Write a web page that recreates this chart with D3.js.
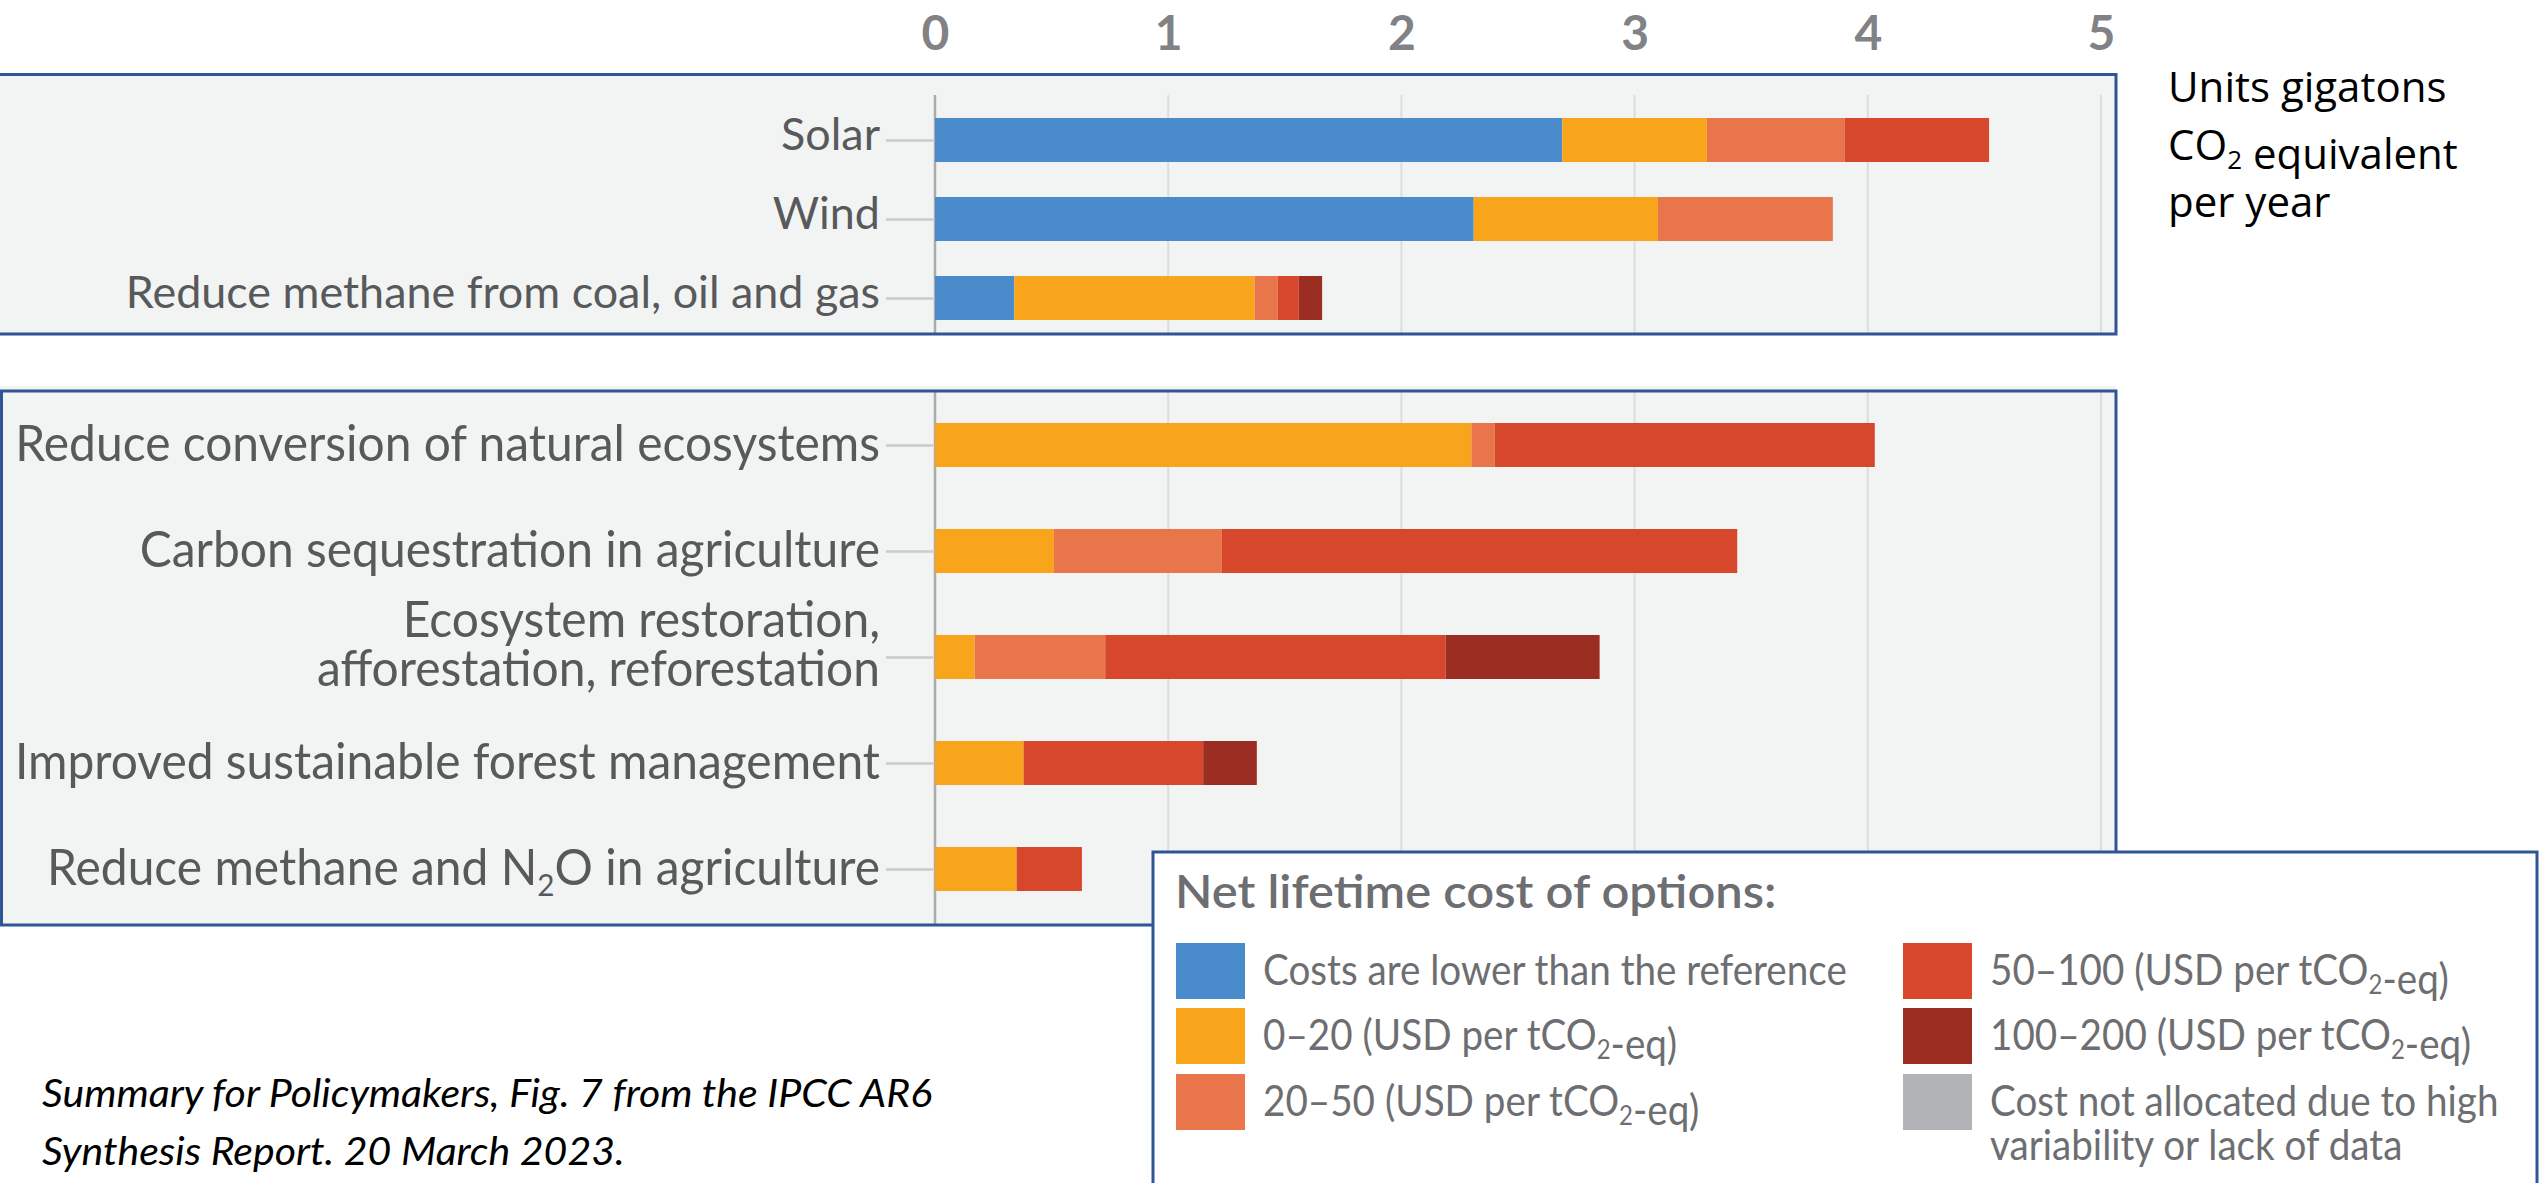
<!DOCTYPE html>
<html><head><meta charset="utf-8">
<script src="https://cdn.jsdelivr.net/npm/d3@7"></script>
<style>body{margin:0;background:#fff;} svg{display:block}</style>
</head><body>
<svg id="c" width="2539" height="1183"></svg>
<script>
// ---------------- data ----------------
const topCategories = ["Solar", "Wind", "Reduce methane from coal, oil and gas"];
const bottomCategories = [
  "Reduce conversion of natural ecosystems",
  "Carbon sequestration in agriculture",
  "Ecosystem restoration,\nafforestation, reforestation",
  "Improved sustainable forest management",
  "Reduce methane and N2O in agriculture"
];
const costKeys = ["lower", "c0_20", "c20_50", "c50_100", "c100_200", "na"];
const costLabels = [
  "Costs are lower than the reference",
  "0–20 (USD per tCO2-eq)",
  "20–50 (USD per tCO2-eq)",
  "50–100 (USD per tCO2-eq)",
  "100–200 (USD per tCO2-eq)",
  "Cost not allocated due to high\nvariability or lack of data"
];
// GtCO2-eq per year, in order: top categories then bottom categories
const lowerThanRef = [2.69, 2.31, 0.34, 0, 0, 0, 0, 0];
const cost0to20    = [0.62, 0.79, 1.03, 2.30, 0.51, 0.17, 0.38, 0.35];
const cost20to50   = [0.59, 0.75, 0.10, 0.10, 0.72, 0.56, 0, 0];
const cost50to100  = [0.62, 0, 0.09, 1.63, 2.21, 1.46, 0.77, 0.28];
const cost100to200 = [0, 0, 0.10, 0, 0, 0.66, 0.23, 0];
const costNotAlloc = [0, 0, 0, 0, 0, 0, 0, 0];
const xTicks = [0, 1, 2, 3, 4, 5];
const unitsLines = ["Units gigatons", "CO2 equivalent", "per year"];
const legendTitle = "Net lifetime cost of options:";
const captionLines = ["Summary for Policymakers, Fig. 7 from the IPCC AR6", "Synthesis Report. 20 March 2023."];

// ---------------- styles ----------------
const colors = {lower:"#4a8bcb", c0_20:"#f9a51b", c20_50:"#e9754a", c50_100:"#d6472b", c100_200:"#9b2d22", na:"#b2b3b6"};
const FONT = "Lato, 'Noto Sans', sans-serif";
const border = "#2f5597";
const panelBg = "#f2f3f3";

const svg = d3.select("#c");
const allCats = topCategories.concat(bottomCategories);
const rows = allCats.map((c, i) => ({
  cat: c, lower: lowerThanRef[i], c0_20: cost0to20[i], c20_50: cost20to50[i],
  c50_100: cost50to100[i], c100_200: cost100to200[i], na: costNotAlloc[i]
}));
const series = d3.stack().keys(costKeys)(rows);

const x = d3.scaleLinear().domain([0, 5]).range([935, 2101]);
const yTop = d3.scalePoint().domain(topCategories).range([140, 298]);
const yBot = d3.scalePoint().domain(bottomCategories).range([445, 869]);
const yOf = c => topCategories.includes(c) ? yTop(c) : yBot(c);
const barH = 44;

// rich text: handles \n and subscript 2 in CO2 / N2O
function richText(sel, str, fs, lh, baseDy, multiShift) {
  sel.text(null);
  const lines = str.split("\n");
  const xAttr = sel.attr("x") || 0;
  lines.forEach((ln, i) => {
    const parts = ln.split(/(CO2|N2O)/);
    let first = true;
    parts.forEach(p => {
      if (!p) return;
      const m = p.match(/^(CO|N)2(O?)$/);
      const segs = m ? [[m[1], 0], ["2", 1], [m[2], -1]] : [[p, 0]];
      segs.forEach(([t, sub]) => {
        const ts = sel.append("tspan").text(t);
        let dy = 0;
        if (first) {
          ts.attr("x", xAttr);
          dy = i === 0 ? baseDy - (lines.length - 1) * lh / 2 - (lines.length > 1 ? (multiShift || 0) : 0) : lh;
          first = false;
        }
        if (sub === 1) { ts.attr("font-size", fs * 0.62); dy += fs * 0.22; }
        if (sub === -1) { dy -= fs * 0.22; }
        ts.attr("dy", dy);
      });
    });
  });
}
function squeeze(sel, s) {
  const xv = +sel.attr("x") || 0;
  sel.attr("transform", `translate(${xv},0) scale(${s},1) translate(${-xv},0)`);
}

// ---------------- panels ----------------
svg.append("rect").attr("x", 0).attr("y", 75).attr("width", 2116).attr("height", 259).attr("fill", panelBg);
svg.append("rect").attr("x", 0).attr("y", 386).attr("width", 2116).attr("height", 539).attr("fill", panelBg);

// gridlines
const grid = svg.append("g");
[[95, 334], [391, 925]].forEach(([y0, y1]) => {
  grid.selectAll(null).data(xTicks).enter().append("line")
    .attr("x1", d => x(d)).attr("x2", d => x(d)).attr("y1", y0).attr("y2", y1)
    .attr("stroke", d => d === 0 ? "#a9abad" : "#dcdddf").attr("stroke-width", d => d === 0 ? 2.5 : 2);
});

// top axis labels
const xAxis = svg.append("g").attr("transform", "translate(0,50)")
  .call(d3.axisTop(x).tickValues(xTicks).tickSize(0).tickPadding(0).tickFormat(d3.format("d")));
xAxis.select(".domain").remove();
xAxis.selectAll("text").attr("font-family", FONT).attr("font-weight", "bold").attr("font-size", 48).attr("fill", "#808285");

// bars
svg.append("g").selectAll("g").data(series).enter().append("g")
  .attr("fill", d => colors[d.key])
  .selectAll("rect").data(d => d.filter(s => s[1] - s[0] > 0)).enter().append("rect")
  .attr("x", d => x(d[0])).attr("width", d => x(d[1]) - x(d[0]))
  .attr("y", d => yOf(d.data.cat) - barH / 2).attr("height", barH);

// y axes
function yAxis(scale, fs, lh, sx, shift, mshift) {
  const g = svg.append("g").attr("transform", "translate(933,0)")
    .call(d3.axisLeft(scale).tickSize(47).tickPadding(6));
  g.select(".domain").remove();
  g.selectAll(".tick line").attr("stroke", "#c9cacc").attr("stroke-width", 2.5);
  g.selectAll(".tick text").attr("font-family", FONT).attr("font-size", fs).attr("fill", "#58595b")
    .attr("dy", null)
    .each(function(d) {
      const t = d3.select(this);
      richText(t, d, fs, lh, fs * 0.36 + shift, mshift);
      squeeze(t, sx);
    });
}
yAxis(yTop, 44, 48, 1.02, -6, 0);
yAxis(yBot, 51, 49, 0.94, -3, 11);

// panel borders
const b = svg.append("g").attr("stroke", border).attr("stroke-width", 3).attr("fill", "none");
b.append("path").attr("d", "M0,74.5 H2116 V334 H0");
b.append("rect").attr("x", 1.5).attr("y", 391).attr("width", 2114.5).attr("height", 534);

// units text
svg.append("g").selectAll("text").data(unitsLines).enter().append("text")
  .attr("x", 2168).attr("y", (d, i) => 102 + i * 57.5)
  .attr("font-family", "'Open Sans', sans-serif").attr("font-size", 42).attr("fill", "#000")
  .each(function(d) { richText(d3.select(this), d, 42, 0, 0); });

// legend
const lg = svg.append("g");
lg.append("rect").attr("x", 1153).attr("y", 852).attr("width", 1384).attr("height", 340)
  .attr("fill", "#fff").attr("stroke", border).attr("stroke-width", 3);
lg.append("text").attr("x", 1175).attr("y", 908).text(legendTitle)
  .attr("font-family", FONT).attr("font-weight", 600).attr("font-size", 47).attr("fill", "#6d6e71")
  .call(squeeze, 1.04);
const items = lg.selectAll("g.item").data(costKeys).enter().append("g")
  .attr("transform", (d, i) => `translate(${i < 3 ? 1176 : 1903},${[943, 1008, 1074][i % 3]})`);
items.append("rect").attr("width", 69).attr("height", 56).attr("fill", d => colors[d]);
items.append("text").attr("x", 87).attr("y", 42)
  .attr("font-family", FONT).attr("font-size", 42).attr("fill", "#6d6e71")
  .each(function(d, i) {
    const t = d3.select(this);
    richText(t, costLabels[i], 42, 44, 0, 0);
    t.selectAll("tspan").filter(function() { return this.getAttribute("x") !== null; })
      .each(function(_, j) { d3.select(this).attr("dy", j > 0 ? 44 : 0); });
    squeeze(t, 0.92);
  });

// caption
svg.append("g").selectAll("text").data(captionLines).enter().append("text")
  .attr("x", 42).attr("y", (d, i) => 1107 + i * 58).text(d => d)
  .attr("font-family", FONT).attr("font-style", "italic")
  .attr("font-size", 38).attr("fill", "#000")
  .each(function() { squeeze(d3.select(this), 1.08); });
</script>
</body></html>
